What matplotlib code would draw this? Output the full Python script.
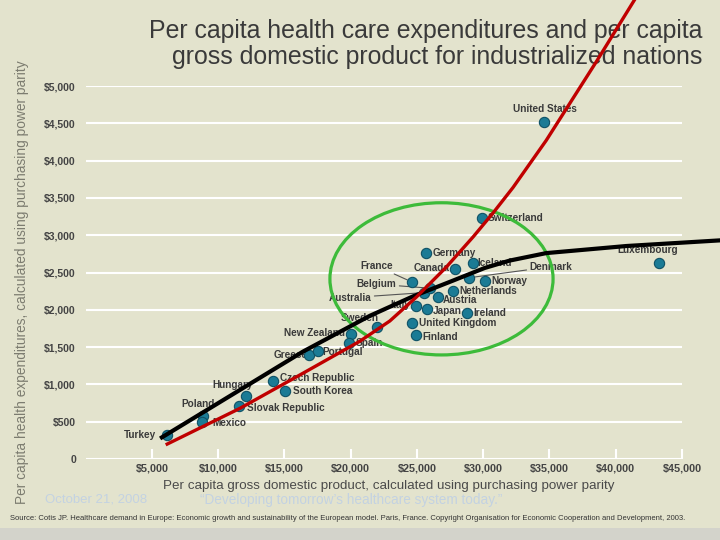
import numpy as np
import matplotlib
matplotlib.use('Agg')
import matplotlib.pyplot as plt
from matplotlib.patches import Ellipse, Rectangle

# data (GDP per capita, health spend per capita, PPP $)
countries = ['Turkey', 'Poland', 'Mexico', 'Slovak Republic', 'Hungary',
             'Czech Republic', 'South Korea', 'Greece', 'Portugal', 'New Zealand',
             'Spain', 'Sweden', 'Italy', 'Japan', 'United Kingdom', 'Finland',
             'Australia', 'Belgium', 'France', 'Germany', 'Canada', 'Iceland',
             'Denmark', 'Norway', 'Netherlands', 'Austria', 'Ireland',
             'Switzerland', 'United States', 'Luxembourg']
gdp = [6150, 8850, 8750, 11550, 12100, 14150, 15050, 16850, 17500, 20050,
       19900, 21950, 24950, 25750, 24650, 24900, 25500, 25950, 24650, 25700,
       27850, 29200, 28950, 30100, 27700, 26600, 28800, 29900, 34600, 43300]
health = [320, 575, 490, 710, 845, 1045, 910, 1395, 1450, 1675,
          1560, 1770, 2050, 2010, 1820, 1660, 2230, 2290, 2370, 2765,
          2545, 2625, 2430, 2380, 2255, 2175, 1960, 3225, 4520, 2625]

# hand-drawn trend curves
red_x = [6150, 11650, 16400, 20700, 22950, 24950, 27200, 29250, 30750,
         32250, 34750, 38550, 41400, 42200]
red_y = [200, 680, 1150, 1580, 1850, 2170, 2570, 2980, 3300,
         3640, 4270, 5330, 6150, 6380]
black_x = [5750, 11400, 16400, 21450, 24700, 27700, 30100, 32000, 34750,
           40800, 47800, 49500]
black_y = [290, 900, 1440, 1920, 2180, 2390, 2560, 2660, 2760,
           2855, 2930, 2945]

yticks = list(range(0, 5001, 500))
ytick_labels = ['0'] + ['${:,}'.format(v) for v in yticks[1:]]
xticks = list(range(5000, 45001, 5000))
xtick_labels = ['${:,}'.format(v) for v in xticks]

# label placement: (dx px, dy px up, align, leader line)
lab = {
    'Turkey': (-11, 0, 'right', False), 'Poland': (-5, 12, 'center', False),
    'Mexico': (11, -1, 'left', False), 'Slovak Republic': (8, -2, 'left', False),
    'Hungary': (-13, 11, 'center', False), 'Czech Republic': (7, 3, 'left', False),
    'South Korea': (8, 0, 'left', False), 'Greece': (-1, 0, 'right', False),
    'Portugal': (5, -1, 'left', False), 'New Zealand': (-6, 1, 'right', False),
    'Spain': (6, 0, 'left', False), 'Sweden': (-17, 9, 'center', False),
    'Italy': (-6, 1, 'right', False), 'Japan': (6, -2, 'left', False),
    'United Kingdom': (7, 0, 'left', False), 'Finland': (7, -2, 'left', False),
    'Australia': (-52, -5, 'right', True), 'Belgium': (-33, 4, 'right', True),
    'France': (-19, 16, 'right', True), 'Germany': (6, 0, 'left', False),
    'Canada': (-5, 1, 'right', False), 'Iceland': (5, 0, 'left', False),
    'Denmark': (60, 11, 'left', True), 'Norway': (7, 0, 'left', False),
    'Netherlands': (7, 0, 'left', False), 'Austria': (5, -3, 'left', False),
    'Ireland': (6, 0, 'left', False), 'Switzerland': (6, 0, 'left', False),
    'United States': (1, 13, 'center', False), 'Luxembourg': (-12, 13, 'center', False),
}

narrow = ['Liberation Sans Narrow', 'Liberation Sans', 'DejaVu Sans']
bg = '#e3e3cd'

fig = plt.figure(figsize=(7.2, 5.4), dpi=100)
fig.patch.set_facecolor(bg)
ax = fig.add_axes([85.7 / 720, 1 - 459 / 540, (682 - 85.7) / 720, (459 - 86) / 540])
ax.patch.set_visible(False)
ax.set_xlim(0, 45000)
ax.set_ylim(0, 5000)
for s in ax.spines.values():
    s.set_visible(False)

ax.set_yticks(yticks)
ax.set_yticklabels(ytick_labels, fontfamily=narrow, fontweight='bold',
                   fontsize=7.5, color='#444444')
ax.set_xticks(xticks)
ax.set_xticklabels(xtick_labels, fontfamily=narrow, fontweight='bold',
                   fontsize=7.8, color='#444444')
ax.tick_params(axis='y', length=0, pad=7)
ax.tick_params(axis='x', direction='in', length=7, width=1.5, color='white', pad=3)
ax.grid(axis='y', color='white', lw=1.5)
ax.set_axisbelow(True)

ax.scatter(gdp, health, s=55, color='#1b7b95', edgecolor='#0f5266',
           linewidth=0.8, zorder=4)

for name, x, y in zip(countries, gdp, health):
    dx, dy, ha, lead = lab[name]
    kw = {}
    if lead:
        kw['arrowprops'] = dict(arrowstyle='-', color='#555555', lw=0.8,
                                shrinkA=0, shrinkB=4)
    ax.annotate(name, (x, y), xytext=(dx * 0.72, dy * 0.72),
                textcoords='offset points', ha=ha, va='center',
                fontfamily=narrow, fontweight='bold', fontsize=7.2,
                color='#3a3a3a', zorder=3, **kw)

ax.add_patch(Ellipse((26850, 2415), 16840, 2040, fill=False,
                     edgecolor='#3dbb3a', lw=2.3, zorder=5, clip_on=False))
ax.plot(black_x, black_y, color='black', lw=3, zorder=6, clip_on=False)
ax.plot(red_x, red_y, color='#c00000', lw=2.4, zorder=7, clip_on=False)

tf = fig.transFigure
ax.text(702 / 720, 1 - 38 / 540, 'Per capita health care expenditures and per capita',
        transform=tf, ha='right', va='baseline', fontsize=17.9,
        fontfamily=narrow, color='#3a3a3a', zorder=1, clip_on=False)
ax.text(702 / 720, 1 - 64 / 540, 'gross domestic product for industrialized nations',
        transform=tf, ha='right', va='baseline', fontsize=17.9,
        fontfamily=narrow, color='#3a3a3a', zorder=1, clip_on=False)

fig.text(22 / 720, 1 - 282 / 540,
         'Per capita health expenditures, calculated using purchasing power parity',
         rotation=90, ha='center', va='center', fontsize=9.9,
         fontfamily=narrow, color='#7c7c70')
fig.text(389 / 720, 1 - 486 / 540,
         'Per capita gross domestic product, calculated using purchasing power parity',
         ha='center', va='center', fontsize=9.6, fontfamily=narrow, color='#4a4a4a')

fig.text(45 / 720, 1 - 500 / 540, 'October 21, 2008', ha='left', va='center',
         fontsize=9.5, fontfamily=['Liberation Sans', 'DejaVu Sans'], color='#c3d2e2')
fig.text(200 / 720, 1 - 500 / 540,
         '\u201cDeveloping tomorrow\u2019s healthcare system today.\u201d',
         ha='left', va='center', fontsize=9.8,
         fontfamily=['Liberation Sans', 'DejaVu Sans'], color='#c3d2e2')
fig.text(10 / 720, 1 - 519 / 540,
         'Source: Cotis JP. Healthcare demand in Europe: Economic growth and sustainability '
         'of the European model. Paris, France. Copyright Organisation for Economic '
         'Cooperation and Development, 2003.',
         ha='left', va='center', fontsize=5.5, fontfamily=narrow, color='#333333')

fig.patches.append(Rectangle((0, 0), 1, 12 / 540, transform=tf,
                             facecolor='#d3d3cb', edgecolor='none', zorder=0))

fig.savefig('out.png', dpi=100, facecolor=fig.get_facecolor())
